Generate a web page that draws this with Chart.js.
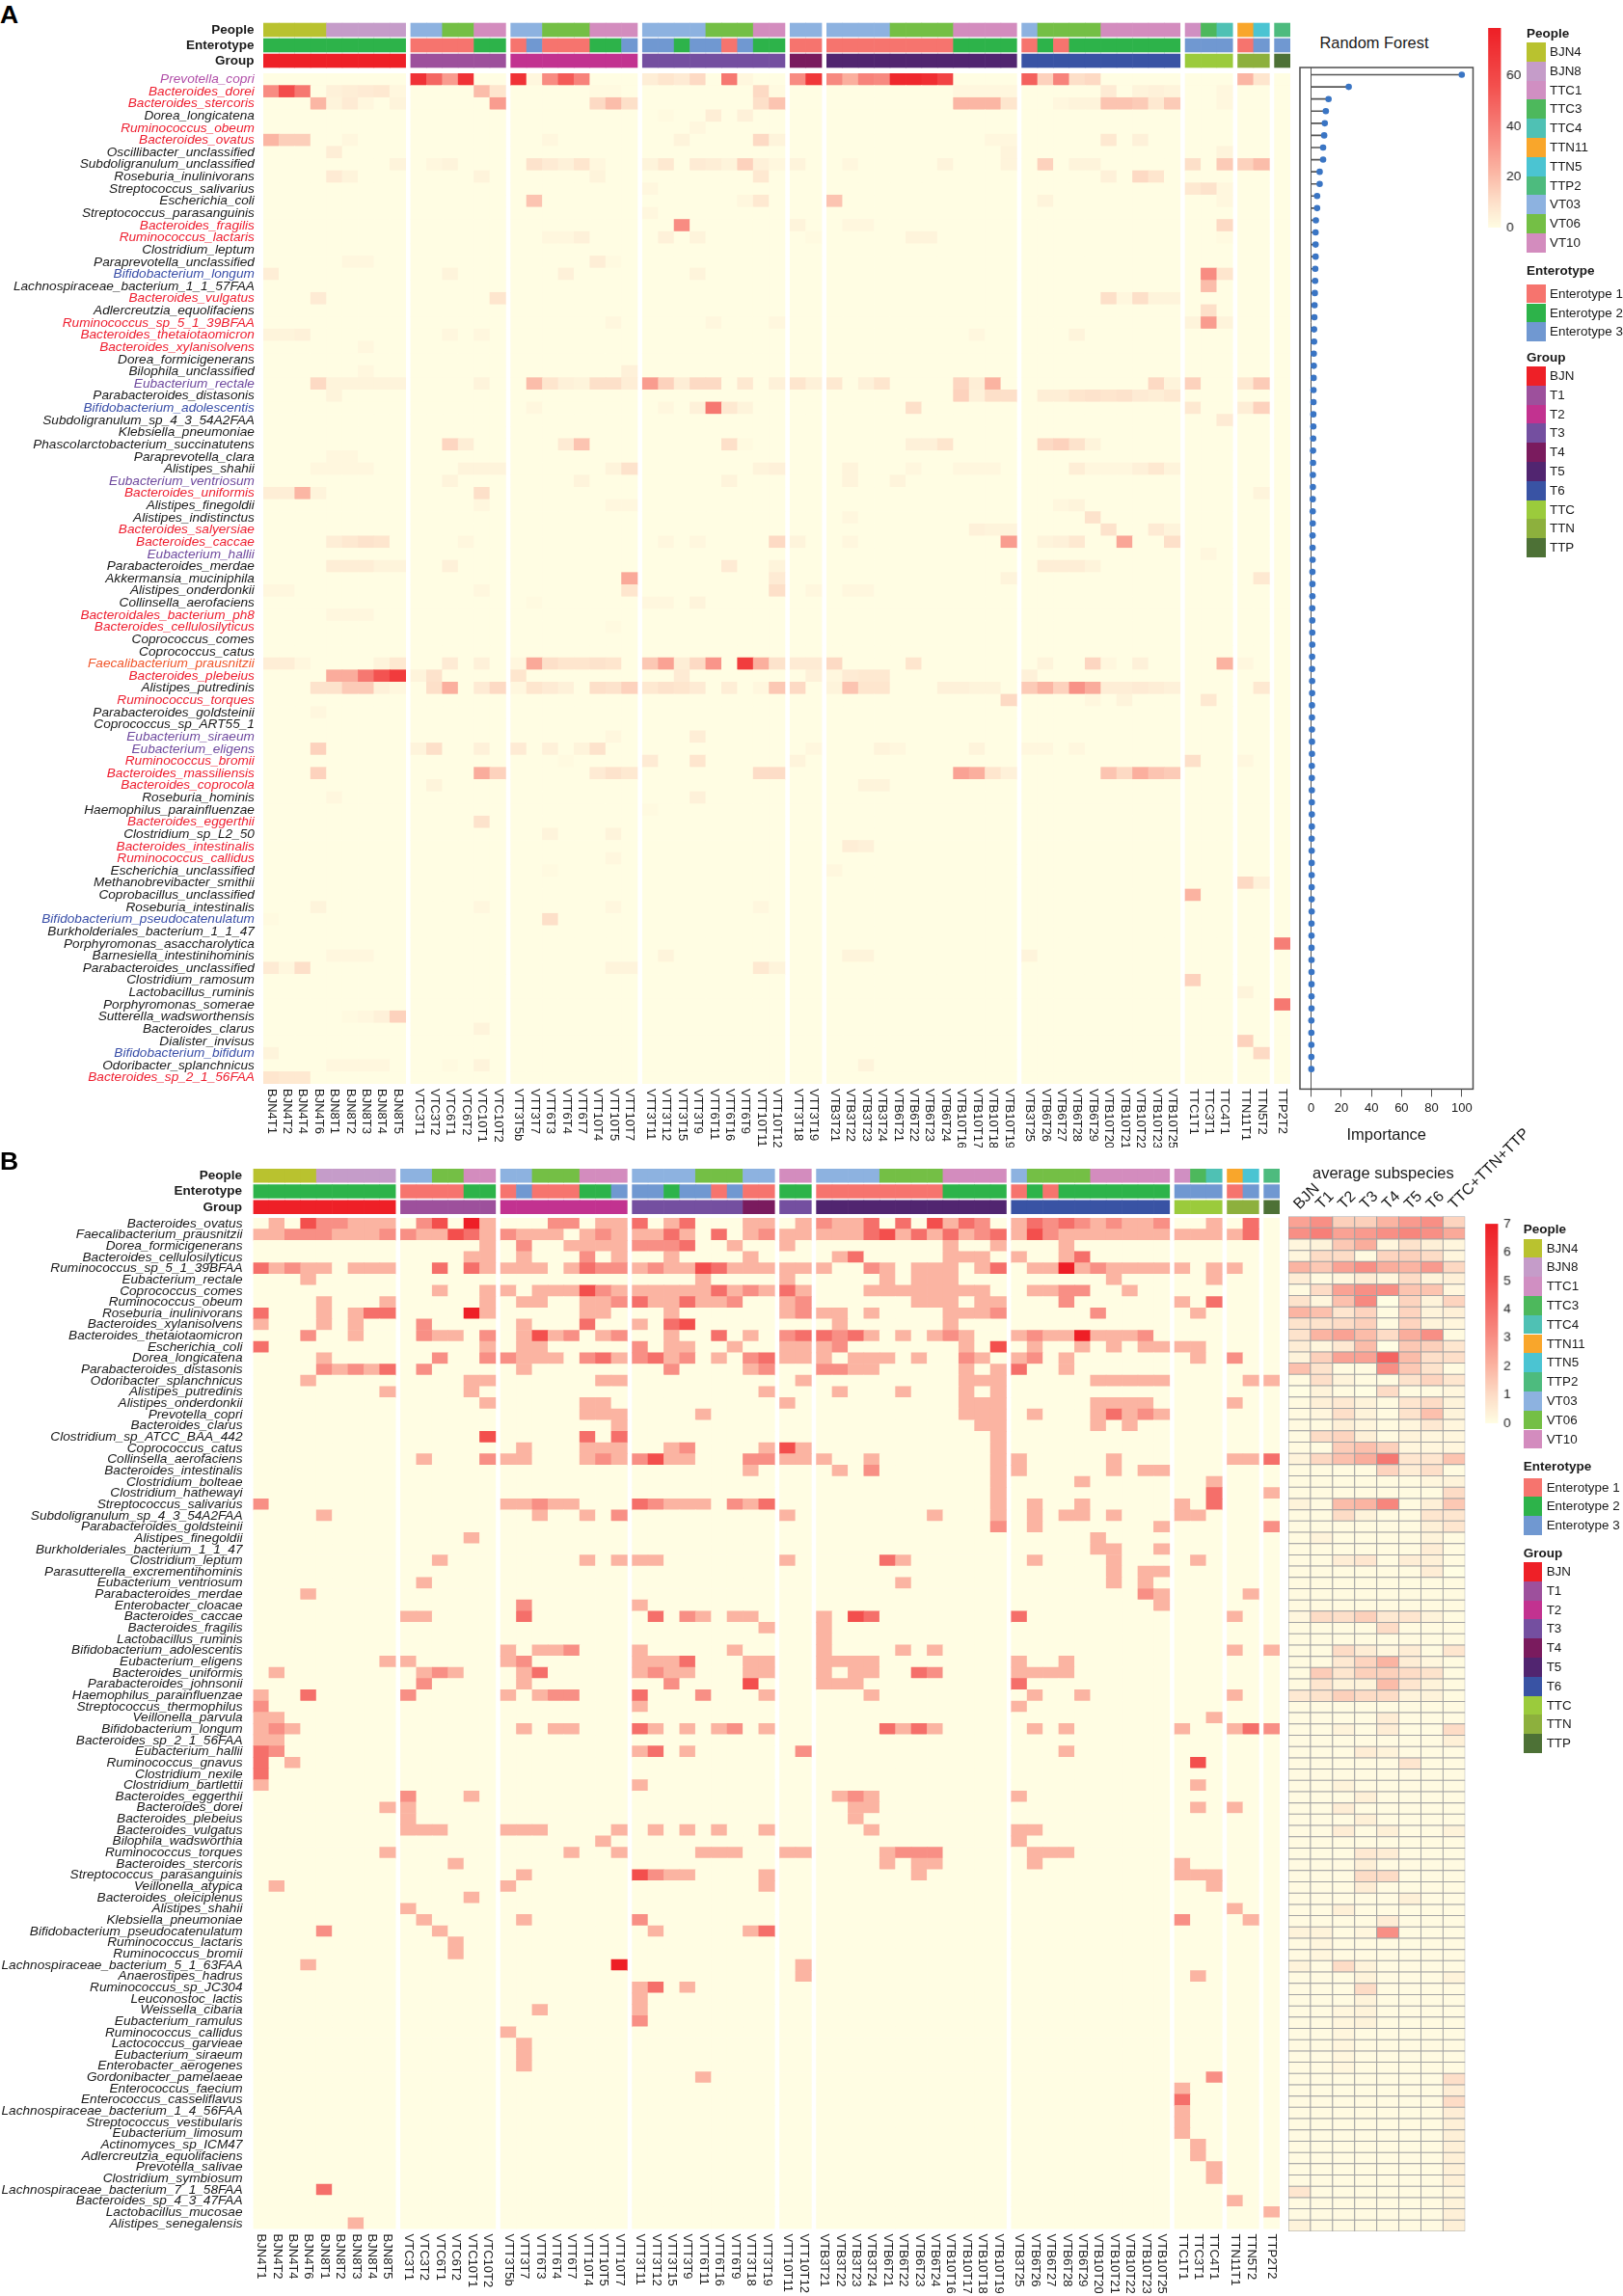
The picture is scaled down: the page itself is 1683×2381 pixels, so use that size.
<!DOCTYPE html>
<html>
<head>
<meta charset="utf-8">
<title>Subspecies heatmaps</title>
<script src="https://cdn.jsdelivr.net/npm/chart.js@4"></script>
<style>
  html, body { margin: 0; padding: 0; background: #fff; }
  #page { position: relative; width: 1683px; height: 2381px; overflow: hidden; font-family: "Liberation Sans", Arial, sans-serif; color: #1a1a1a; }
  #page canvas { position: absolute; }
  .txt { position: absolute; white-space: nowrap; line-height: 1; }
  .swatch { position: absolute; }
</style>
</head>
<body>
<div id="page"></div>
<script>
// ── Species (top to bottom) ─────────────────────────────────────
const speciesA = ['Prevotella_copri','Bacteroides_dorei','Bacteroides_stercoris','Dorea_longicatena','Ruminococcus_obeum','Bacteroides_ovatus','Oscillibacter_unclassified','Subdoligranulum_unclassified','Roseburia_inulinivorans','Streptococcus_salivarius','Escherichia_coli','Streptococcus_parasanguinis','Bacteroides_fragilis','Ruminococcus_lactaris','Clostridium_leptum','Paraprevotella_unclassified','Bifidobacterium_longum','Lachnospiraceae_bacterium_1_1_57FAA','Bacteroides_vulgatus','Adlercreutzia_equolifaciens','Ruminococcus_sp_5_1_39BFAA','Bacteroides_thetaiotaomicron','Bacteroides_xylanisolvens','Dorea_formicigenerans','Bilophila_unclassified','Eubacterium_rectale','Parabacteroides_distasonis','Bifidobacterium_adolescentis','Subdoligranulum_sp_4_3_54A2FAA','Klebsiella_pneumoniae','Phascolarctobacterium_succinatutens','Paraprevotella_clara','Alistipes_shahii','Eubacterium_ventriosum','Bacteroides_uniformis','Alistipes_finegoldii','Alistipes_indistinctus','Bacteroides_salyersiae','Bacteroides_caccae','Eubacterium_hallii','Parabacteroides_merdae','Akkermansia_muciniphila','Alistipes_onderdonkii','Collinsella_aerofaciens','Bacteroidales_bacterium_ph8','Bacteroides_cellulosilyticus','Coprococcus_comes','Coprococcus_catus','Faecalibacterium_prausnitzii','Bacteroides_plebeius','Alistipes_putredinis','Ruminococcus_torques','Parabacteroides_goldsteinii','Coprococcus_sp_ART55_1','Eubacterium_siraeum','Eubacterium_eligens','Ruminococcus_bromii','Bacteroides_massiliensis','Bacteroides_coprocola','Roseburia_hominis','Haemophilus_parainfluenzae','Bacteroides_eggerthii','Clostridium_sp_L2_50','Bacteroides_intestinalis','Ruminococcus_callidus','Escherichia_unclassified','Methanobrevibacter_smithii','Coprobacillus_unclassified','Roseburia_intestinalis','Bifidobacterium_pseudocatenulatum','Burkholderiales_bacterium_1_1_47','Porphyromonas_asaccharolytica','Barnesiella_intestinihominis','Parabacteroides_unclassified','Clostridium_ramosum','Lactobacillus_ruminis','Porphyromonas_somerae','Sutterella_wadsworthensis','Bacteroides_clarus','Dialister_invisus','Bifidobacterium_bifidum','Odoribacter_splanchnicus','Bacteroides_sp_2_1_56FAA'];

const speciesB = ['Bacteroides_ovatus','Faecalibacterium_prausnitzii','Dorea_formicigenerans','Bacteroides_cellulosilyticus','Ruminococcus_sp_5_1_39BFAA','Eubacterium_rectale','Coprococcus_comes','Ruminococcus_obeum','Roseburia_inulinivorans','Bacteroides_xylanisolvens','Bacteroides_thetaiotaomicron','Escherichia_coli','Dorea_longicatena','Parabacteroides_distasonis','Odoribacter_splanchnicus','Alistipes_putredinis','Alistipes_onderdonkii','Prevotella_copri','Bacteroides_clarus','Clostridium_sp_ATCC_BAA_442','Coprococcus_catus','Collinsella_aerofaciens','Bacteroides_intestinalis','Clostridium_bolteae','Clostridium_hathewayi','Streptococcus_salivarius','Subdoligranulum_sp_4_3_54A2FAA','Parabacteroides_goldsteinii','Alistipes_finegoldii','Burkholderiales_bacterium_1_1_47','Clostridium_leptum','Parasutterella_excrementihominis','Eubacterium_ventriosum','Parabacteroides_merdae','Enterobacter_cloacae','Bacteroides_caccae','Bacteroides_fragilis','Lactobacillus_ruminis','Bifidobacterium_adolescentis','Eubacterium_eligens','Bacteroides_uniformis','Parabacteroides_johnsonii','Haemophilus_parainfluenzae','Streptococcus_thermophilus','Veillonella_parvula','Bifidobacterium_longum','Bacteroides_sp_2_1_56FAA','Eubacterium_hallii','Ruminococcus_gnavus','Clostridium_nexile','Clostridium_bartlettii','Bacteroides_eggerthii','Bacteroides_dorei','Bacteroides_plebeius','Bacteroides_vulgatus','Bilophila_wadsworthia','Ruminococcus_torques','Bacteroides_stercoris','Streptococcus_parasanguinis','Veillonella_atypica','Bacteroides_oleiciplenus','Alistipes_shahii','Klebsiella_pneumoniae','Bifidobacterium_pseudocatenulatum','Ruminococcus_lactaris','Ruminococcus_bromii','Lachnospiraceae_bacterium_5_1_63FAA','Anaerostipes_hadrus','Ruminococcus_sp_JC304','Leuconostoc_lactis','Weissella_cibaria','Eubacterium_ramulus','Ruminococcus_callidus','Lactococcus_garvieae','Eubacterium_siraeum','Enterobacter_aerogenes','Gordonibacter_pamelaeae','Enterococcus_faecium','Enterococcus_casseliflavus','Lachnospiraceae_bacterium_1_4_56FAA','Streptococcus_vestibularis','Eubacterium_limosum','Actinomyces_sp_ICM47','Adlercreutzia_equolifaciens','Prevotella_salivae','Clostridium_symbiosum','Lachnospiraceae_bacterium_7_1_58FAA','Bacteroides_sp_4_3_47FAA','Lactobacillus_mucosae','Alistipes_senegalensis'];

// Coloured species names in panel A
const redNames = ['Bacteroides_dorei','Bacteroides_stercoris','Ruminococcus_obeum','Bacteroides_ovatus','Bacteroides_fragilis','Ruminococcus_lactaris','Bacteroides_vulgatus','Ruminococcus_sp_5_1_39BFAA','Bacteroides_thetaiotaomicron','Bacteroides_xylanisolvens','Bacteroides_uniformis','Bacteroides_salyersiae','Bacteroides_caccae','Bacteroidales_bacterium_ph8','Bacteroides_cellulosilyticus','Bacteroides_plebeius','Ruminococcus_torques','Ruminococcus_bromii','Bacteroides_massiliensis','Bacteroides_coprocola','Bacteroides_eggerthii','Bacteroides_intestinalis','Ruminococcus_callidus','Bacteroides_sp_2_1_56FAA'];
const blueNames = ['Bifidobacterium_longum','Bifidobacterium_adolescentis','Bifidobacterium_pseudocatenulatum','Bifidobacterium_bifidum'];
const purpleNames = ['Eubacterium_rectale','Eubacterium_ventriosum','Eubacterium_hallii','Eubacterium_siraeum','Eubacterium_eligens'];
const magentaNames = ['Prevotella_copri'];
const orangeNames = ['Faecalibacterium_prausnitzii'];

// ── Samples, split in the gapped column groups ──────────────────
const samplesA = [
  ['BJN4T1','BJN4T2','BJN4T4','BJN4T6','BJN8T1','BJN8T2','BJN8T3','BJN8T4','BJN8T5'],
  ['VTC3T1','VTC3T2','VTC6T1','VTC6T2','VTC10T1','VTC10T2'],
  ['VTT3T5b','VTT3T7','VTT6T3','VTT6T4','VTT6T7','VTT10T4','VTT10T5','VTT10T7'],
  ['VTT3T11','VTT3T12','VTT3T15','VTT3T9','VTT6T11','VTT6T16','VTT6T9','VTT10T11','VTT10T12'],
  ['VTT3T18','VTT3T19'],
  ['VTB3T21','VTB3T22','VTB3T23','VTB3T24','VTB6T21','VTB6T22','VTB6T23','VTB6T24','VTB10T16','VTB10T17','VTB10T18','VTB10T19'],
  ['VTB3T25','VTB6T26','VTB6T27','VTB6T28','VTB6T29','VTB10T20','VTB10T21','VTB10T22','VTB10T23','VTB10T25'],
  ['TTC1T1','TTC3T1','TTC4T1'],
  ['TTN11T1','TTN5T2'],
  ['TTP2T2']
];
const samplesB = [
  samplesA[0], samplesA[1], samplesA[2],
  ['VTT3T11','VTT3T12','VTT3T15','VTT3T9','VTT6T11','VTT6T16','VTT6T9','VTT3T18','VTT3T19'],
  ['VTT10T11','VTT10T12'],
  samplesA[5], samplesA[6], samplesA[7], samplesA[8], samplesA[9]
];

// ── Annotation tracks, as [name, count] runs over the samples ───
const peopleA = [['BJN4',4],['BJN8',5],['VT03',2],['VT06',2],['VT10',2],['VT03',2],['VT06',3],['VT10',3],['VT03',4],['VT06',3],['VT10',2],['VT03',2],['VT03',4],['VT06',4],['VT10',4],['VT03',1],['VT06',4],['VT10',5],['TTC1',1],['TTC3',1],['TTC4',1],['TTN11',1],['TTN5',1],['TTP2',1]];
const peopleB = [['BJN4',4],['BJN8',5],['VT03',2],['VT06',2],['VT10',2],['VT03',2],['VT06',3],['VT10',3],['VT03',4],['VT06',3],['VT03',2],['VT10',2],['VT03',4],['VT06',4],['VT10',4],['VT03',1],['VT06',4],['VT10',5],['TTC1',1],['TTC3',1],['TTC4',1],['TTN11',1],['TTN5',1],['TTP2',1]];
const enteroA = [['Enterotype 2',9],['Enterotype 1',4],['Enterotype 2',2],['Enterotype 1',1],['Enterotype 3',1],['Enterotype 1',3],['Enterotype 2',2],['Enterotype 3',1],['Enterotype 3',2],['Enterotype 2',1],['Enterotype 3',2],['Enterotype 1',1],['Enterotype 3',1],['Enterotype 2',2],['Enterotype 1',2],['Enterotype 1',8],['Enterotype 2',4],['Enterotype 1',1],['Enterotype 2',1],['Enterotype 1',1],['Enterotype 2',7],['Enterotype 3',3],['Enterotype 1',1],['Enterotype 3',1],['Enterotype 3',1]];
const enteroB = [['Enterotype 2',9],['Enterotype 1',4],['Enterotype 2',2],['Enterotype 1',1],['Enterotype 3',1],['Enterotype 1',3],['Enterotype 2',2],['Enterotype 3',1],['Enterotype 3',2],['Enterotype 2',1],['Enterotype 3',2],['Enterotype 1',1],['Enterotype 3',1],['Enterotype 1',2],['Enterotype 2',2],['Enterotype 1',8],['Enterotype 2',4],['Enterotype 1',1],['Enterotype 2',1],['Enterotype 1',1],['Enterotype 2',7],['Enterotype 3',3],['Enterotype 1',1],['Enterotype 3',1],['Enterotype 3',1]];
const groupA = [['BJN',9],['T1',6],['T2',8],['T3',9],['T4',2],['T5',12],['T6',10],['TTC',3],['TTN',2],['TTP',1]];
const groupB = [['BJN',9],['T1',6],['T2',8],['T3',7],['T4',2],['T3',2],['T5',12],['T6',10],['TTC',3],['TTN',2],['TTP',1]];

// ── Legend entries ──────────────────────────────────────────────
const peopleNames = ['BJN4','BJN8','TTC1','TTC3','TTC4','TTN11','TTN5','TTP2','VT03','VT06','VT10'];
const peopleColors = ['#B9C22F','#C59CC9','#D08FC2','#4DB85C','#4FC1B4','#F9A62B','#4BC4D2','#4DBB7E','#8DB2E0','#74BF45','#D38CBE'];
const enteroNames = ['Enterotype 1','Enterotype 2','Enterotype 3'];
const enteroColors = ['#F6746E','#2DB34A','#7098D1'];
const groupNames = ['BJN','T1','T2','T3','T4','T5','T6','TTC','TTN','TTP'];
const groupColors = ['#EE2027','#9D509C','#C23290','#744FA0','#7A1B5E','#512570','#3953A4','#9BCB3C','#8DB03D','#4D7136'];

// ── Panel A abundance: one list per species, as column,value pairs (others 0) ──
const valuesA = [
  [9,70,10,48,11,30,12,70,15,70,16,2,17,35,18,52,19,38,23,5,24,8,25,6,26,12,28,42,29,2,32,35,33,68,34,36,35,24,36,38,37,36,38,75,39,75,40,72,41,62,46,50,47,14,48,38,49,10,50,12,59,22,60,8],
  [0,35,1,58,2,42,4,4,5,5,6,6,7,7,8,2,13,20,14,8,20,1,21,1,30,12,31,1,42,2,43,2,44,2,45,2,51,6,53,3,54,4,55,3,58,2],
  [3,22,4,3,5,6,6,2,8,3,14,30,20,12,21,20,22,10,30,10,31,18,42,22,43,22,44,22,45,8,48,2,49,3,50,3,51,18,52,18,53,16,54,7,55,16,58,2],
  [24,1,27,5,29,4],
  [26,2],
  [0,22,1,15,2,15,5,2,17,2,25,3,30,12,31,3,44,2,45,2,51,7,53,4],
  [4,5,45,3,58,3],
  [8,3,10,2,11,3,16,9,17,6,18,4,19,8,20,2,23,3,24,7,26,6,27,5,28,3,29,14,30,4,31,2,32,3,35,2,41,3,45,3,47,14,49,3,50,3,56,10,58,16,59,14,60,20],
  [4,6,5,3,13,3,20,3,30,7,51,4,53,12,54,8],
  [23,2,56,7,57,9,58,2],
  [16,18,29,2,30,7,34,18,47,3,58,2],
  [23,2],
  [25,35,32,3,35,2,36,2,58,12],
  [17,2,18,2,19,4,24,4,26,3,33,1,39,3,40,3,58,1],
  [],
  [5,2,6,2,20,5,21,1],
  [0,5,11,3,18,4,26,3,57,35,58,8],
  [57,20],
  [3,6,14,8,51,10,52,2,53,10,54,3,55,3],
  [57,10],
  [21,2,27,2,31,2,56,3,57,30,58,3],
  [0,3,1,3,2,4,11,2,13,2,43,2,49,3],
  [6,2],
  [],
  [6,2,22,4],
  [3,12,4,3,5,3,6,3,7,3,8,3,13,3,16,20,17,8,18,4,19,3,20,10,21,10,22,5,23,30,24,14,25,5,26,12,27,12,29,7,31,4,32,8,33,4,34,7,36,4,37,8,42,13,43,5,44,23,54,12,55,3,56,14,59,7,60,16],
  [4,3,42,14,43,4,44,10,45,10,47,5,48,5,49,8,50,9,51,8,52,9,53,6,54,5,55,7],
  [16,2,24,2,26,4,27,42,28,7,29,3,39,10,56,7,59,5,60,14],
  [58,6],
  [],
  [11,13,12,5,18,6,19,18,28,10,29,1,39,4,40,4,41,8,47,12,48,14,49,9,50,3],
  [4,2,5,2],
  [3,2,4,2,5,2,6,2,12,3,13,3,14,3,21,3,22,9,30,3,31,4,35,3,39,2,42,2,43,2,44,2,49,5,50,2,51,2,52,2,53,4,54,7,55,3],
  [11,3,19,3,28,3,35,3,38,3],
  [0,5,1,5,2,22,3,3,13,10,60,3],
  [13,2,21,2,22,2,48,2,49,3],
  [35,2,50,9],
  [43,4,44,3,45,3,51,9,54,6,55,3],
  [4,5,5,7,6,9,7,8,12,2,24,2,26,2,31,12,32,3,35,2,45,30,47,3,48,4,49,7,52,27,55,10],
  [57,2],
  [4,5,5,5,6,5,7,3,8,3,11,4,28,6,31,3,47,5,48,5,49,5,50,3],
  [22,26,31,6,45,3,60,7],
  [0,2,1,2,13,2,22,8,31,10,33,2,35,2,36,2],
  [16,1,23,2,24,2,26,3],
  [4,2,5,2,6,2],
  [21,1],
  [],
  [],
  [0,5,1,5,2,2,7,3,8,7,11,6,13,4,15,2,16,26,17,10,18,8,19,8,20,9,21,8,23,17,24,28,25,5,26,12,27,32,29,65,30,24,31,9,32,6,33,6,34,12,39,8,47,3,50,13,51,2,53,4,58,23,59,2],
  [4,25,5,25,6,42,7,55,8,66,9,3,10,9,15,8,25,6,33,4,34,2,35,6,36,7,37,7,46,4],
  [3,9,4,9,5,16,6,16,7,4,8,2,10,10,11,24,13,6,14,12,15,2,16,8,17,6,18,4,20,10,21,9,22,14,23,7,24,9,25,8,26,6,28,5,30,2,31,17,32,12,34,3,35,18,36,8,37,8,41,4,42,4,43,3,44,3,46,16,47,22,48,14,49,33,50,25,51,5,52,5,53,6,54,5,55,4,60,7],
  [45,12,50,2,52,3,57,7],
  [3,2],
  [],
  [21,2,26,5],
  [3,14,9,3,10,10,13,4,15,6,17,4,19,3,20,9,33,2,37,3,38,2,43,3,46,2,47,2,49,2],
  [18,1,23,6,26,8,32,3,56,10,59,2],
  [3,14,13,25,14,14,20,6,21,9,22,7,30,11,31,11,42,28,43,24,44,8,45,4,51,18,52,12,53,24,54,18,55,16],
  [10,3,36,3,37,3],
  [4,2,26,4],
  [23,1],
  [13,9],
  [17,3,21,3],
  [35,5,36,4],
  [21,2],
  [17,1,34,2],
  [59,12,60,4],
  [56,23],
  [3,3,13,2,21,2,30,2],
  [0,1,17,10],
  [],
  [61,40],
  [4,2,5,2,6,2,24,3,35,3,36,3,46,3],
  [0,6,1,2,2,10,21,3,22,3,30,7,31,3],
  [56,14],
  [59,3],
  [61,42],
  [5,1,6,2,7,4,8,14],
  [13,3],
  [59,14],
  [0,3,60,12],
  [4,2,5,2,6,2,7,2,11,1,13,3,36,3],
  [0,8,1,7,2,7]
];

// ── Panel B abundance, same layout ──────────────────────────────
const valuesB = [
  [1,2,3,5,4,3,5,3,6,2,7,2,8,2,10,3,11,5,13,7,14,2,18,3,19,3,21,2,22,2,23,4,25,2,26,4,30,2,31,2,33,2,34,3,35,2,36,2,37,4,39,4,41,5,42,2,43,4,44,3,46,2,47,4,48,3,49,4,50,3,51,2,52,3,53,2,54,2,55,3,58,2,60,4],
  [0,2,1,2,2,3,3,3,4,3,5,2,6,2,7,2,8,3,9,3,10,2,11,2,12,5,13,4,14,2,15,3,16,2,17,2,18,2,20,2,21,3,22,2,23,2,24,2,25,4,26,2,28,4,30,2,31,3,32,2,33,2,34,2,35,2,36,2,37,4,38,5,39,2,40,4,41,2,42,4,43,2,44,3,45,4,46,2,47,5,48,3,49,2,50,2,51,2,52,2,53,2,54,2,55,2,56,2,57,2,58,2,59,2,60,4],
  [14,2,16,3,19,2,20,2,21,2,22,2,23,3,24,3,25,3,26,4,29,2,32,2,42,2,45,2,49,2],
  [13,2,14,2,16,2,20,3,22,2,25,2,30,2,35,2,36,4,42,2,43,2,44,2,46,2,49,2,50,4],
  [0,4,1,2,2,3,3,2,4,2,6,2,7,2,8,2,11,4,13,4,14,2,15,2,16,2,17,2,19,2,20,4,21,3,22,3,23,2,24,3,25,2,26,2,27,5,28,4,29,2,30,2,31,2,32,2,33,2,34,2,37,3,38,2,40,2,41,2,42,2,44,2,45,4,47,2,48,2,49,7,50,2,51,3,52,2,53,2,54,2,55,2,56,2,58,2,59,2],
  [3,2,27,2,32,2,38,2,40,2,41,2,42,2,52,2,58,2],
  [11,2,14,2,15,2,17,2,18,2,19,2,20,5,21,3,22,2,23,2,24,2,25,2,26,2,27,2,28,4,29,2,30,3,31,2,32,4,33,2,37,2,38,2,39,2,40,2,41,2,42,2,43,2,44,2,47,2,48,2,49,3,50,3,53,2],
  [4,2,8,2,14,2,16,2,17,2,20,2,21,2,22,3,23,4,24,2,25,2,26,4,27,2,28,2,29,3,32,2,33,3,40,2,41,2,42,2,44,2,45,2,49,3,56,2,58,4],
  [0,4,4,2,6,2,7,4,8,4,13,7,14,2,20,2,21,2,25,2,32,2,33,3,34,2,35,2,37,2,42,2,43,2,44,2,45,3,51,3,57,2],
  [0,2,4,2,6,2,10,3,16,2,20,4,23,2,25,4,26,5,35,2,42,2],
  [3,3,6,2,10,3,11,2,12,2,14,3,16,2,17,5,18,2,19,3,21,2,22,3,25,2,28,4,30,2,32,3,33,4,34,4,35,3,36,4,37,2,39,2,41,2,42,3,43,2,46,2,47,3,48,2,49,2,50,7,51,2,52,2,53,2,54,3],
  [0,4,14,2,16,2,17,2,23,3,25,2,26,2,29,2,32,2,33,2,34,2,35,3,43,2,45,5,47,2,50,2,52,2,54,2,55,2,56,2,57,2],
  [4,2,11,3,14,3,15,3,16,2,17,2,18,2,20,3,21,4,22,2,23,3,24,4,25,2,26,3,28,2,30,3,31,4,32,2,33,2,34,2,36,2,37,2,38,2,40,2,43,3,44,2,46,2,47,3,49,2,57,2,59,3],
  [4,3,5,2,6,3,7,2,8,4,10,3,16,2,25,3,30,2,31,3,34,3,35,3,36,2,37,2,43,2,45,2,46,4,49,2],
  [3,2,13,2,14,2,21,2,22,2,33,2,43,2,44,2,45,2,51,2,52,2,53,2,54,2,55,2,60,2,61,2],
  [8,2,13,2,31,2,35,2,39,2,43,2,45,2],
  [14,2,20,2,21,2,32,2,43,2,44,2,45,2,51,2,52,2,53,2,54,2,59,2],
  [20,2,21,2,22,2,27,2,43,2,44,2,45,2,47,2,51,2,52,4,53,2,54,3,55,2],
  [22,2,44,2,45,2,51,2,53,2],
  [14,5,20,4,22,4,45,2],
  [16,2,20,2,21,2,22,2,25,2,26,3,31,2,32,5,33,2,45,2],
  [10,2,14,3,15,2,16,2,20,2,21,3,22,2,23,3,24,5,25,2,26,2,30,3,31,3,32,2,33,2,34,2,37,2,45,2,46,2,52,2,59,2,60,2,61,4],
  [30,2,35,2,37,3,45,2,46,2,52,2,54,2,55,2],
  [45,2,50,2,58,2],
  [45,2,58,4,61,2],
  [0,3,15,2,16,2,17,3,18,2,19,2,23,4,24,3,25,2,26,2,27,2,29,3,30,2,31,4,45,2,47,2,50,2,56,2,58,4],
  [4,2,17,2,20,2,22,3,32,2,41,2,45,2,47,2,49,2,50,2,52,2,56,2,57,2],
  [45,3,47,2,55,2,61,3],
  [13,2,51,2],
  [51,2,52,2,55,2],
  [11,2,20,2,22,2,23,2,24,2,32,2,38,4,39,2,47,2,52,2,57,2],
  [52,2,54,2,55,2],
  [10,2,39,2,52,2,54,2],
  [3,2,54,3,55,2,60,2],
  [16,3,23,2,55,2],
  [9,2,10,2,16,4,24,4,26,3,27,2,29,2,30,2,34,2,36,5,37,4,46,4,59,2],
  [31,2,34,2],
  [34,2],
  [15,2,17,2,18,2,19,3,23,2,29,2,34,2,39,2,41,2,59,2,61,2],
  [8,2,9,2,15,2,16,3,23,2,24,2,25,2,26,4,30,2,31,2,34,2,35,2,36,2,37,2,46,2,49,2],
  [1,2,10,2,11,3,12,2,16,2,17,4,23,2,24,3,25,2,26,2,30,2,31,2,34,2,36,2,37,2,40,4,41,3,46,2,47,2,48,2,49,2],
  [10,3,16,2,25,3,30,5,34,2,35,2,36,2,46,4],
  [0,2,3,4,9,3,15,2,17,2,18,3,19,3,23,4,27,3,31,2,37,2,47,2,50,2,59,2],
  [0,3,23,2,46,2],
  [0,2,1,2,58,2],
  [0,2,1,3,2,2,16,2,18,2,19,2,23,4,24,2,26,2,28,2,29,3,31,2,38,4,39,2,40,4,41,2,47,2,49,2,56,2,59,2,60,4,61,3],
  [0,2,1,2],
  [0,4,1,3,23,2,24,4,26,2,33,3,49,2],
  [0,4,2,2,57,5],
  [0,4],
  [0,2,23,2,57,2],
  [9,3,13,2,35,2,36,3,37,2,46,2],
  [8,2,9,2,36,2,37,2,57,2,59,2],
  [9,2,36,2],
  [9,2,10,2,11,2,15,2,16,2,17,2,22,2,24,2,26,2,28,2,31,2,37,2,46,2,47,2],
  [21,2,46,2],
  [8,2,19,2,22,2,27,2,28,2,29,2,32,2,33,2,38,2,39,3,40,3,41,3,47,2,48,2,49,2],
  [12,2,38,2,40,2,41,2,47,2,56,2],
  [16,2,23,5,24,3,25,2,26,2,31,2,40,2,56,2,57,2,58,2],
  [1,2,15,2,31,2,58,2],
  [13,2],
  [9,2,59,2],
  [10,2,16,2,23,3,56,3,60,2],
  [4,3,11,2,24,2,30,2,31,4],
  [12,2],
  [12,2],
  [3,2,22,7,33,2],
  [33,2,57,2],
  [23,2,24,4,26,2],
  [23,2],
  [17,2,23,2],
  [23,3],
  [15,2],
  [16,2],
  [16,2],
  [16,2],
  [27,2,58,3],
  [56,2],
  [56,4],
  [56,2],
  [56,2],
  [56,2],
  [57,2],
  [57,2],
  [58,2],
  [58,2],
  [4,4],
  [59,2],
  [61,2],
  [6,2]
];

// ── Panel B averages (BJN … TTC+TTN+TTP), first rows read cell by cell ──
const avgColumns = ['BJN','T1','T2','T3','T4','T5','T6','TTC+TTN+TTP'];
const avgTop = [
  [2.5,3,1.3,1.3,2,2.7,3,1.2],[3,3.5,2.5,2.7,3,3.3,3,2.3],[.2,.3,1.5,2.2,.2,.8,.4,.2],[.2,1,1,.1,1.2,1.3,1,.2],
  [2,1.5,2.5,3,2.2,2,2.7,1.1],[.5,.1,.2,.5,.2,1,.3,.4],[.1,1,2.5,3,3,1.6,1.6,.2],[.8,.2,1.7,3.2,0,1.2,.3,1.2],
  [2,1.7,.7,1.2,.1,1.2,.3,.4],[.8,.8,1,1.3,.1,1.2,.3,.2],[.8,2,2.5,1.8,1,2.2,3,.1],[.5,.2,.6,1.8,0,1.5,1.3,.7],
  [.3,1.3,2.5,2.5,4.3,1.8,.9,.9],[1.7,.8,.1,.1,3,1.5,.8,.1],[.1,.9,.3,.1,.1,.8,1.2,.7],[0,.3,.1,0,1,.1,.1,.2],
  [.1,.4,.6,.3,.1,.7,1,.3],[.1,.2,.9,.3,.1,.8,1.7,.3],[.1,.1,.4,.2,.1,.2,.6,.2],[.1,1,1.2,.4,.1,.3,.2,.2],
  [.1,.1,1.4,1.7,1.3,.2,.2,.2],[.3,1.1,1.7,2.2,3.7,.7,.7,1.6],[.1,.1,.1,.1,1.2,.5,.9,.1],[.1,.1,.1,.1,.1,.1,.2,.3],
  [.1,.1,.1,.1,.1,.1,.1,1],[.3,.1,1.8,2,3.3,.1,.4,1.5],[.1,.1,1,.3,.1,.1,.7,.7],[.1,.1,.1,.1,.1,.1,.4,.7],
  [.1,.3,.1,.1,.1,.1,.3,.1],[.1,.1,.1,.1,.1,.1,.5,.1],[.1,.1,.5,.7,.1,.5,.4,.1],[.1,.1,.1,.1,.1,.1,.5,0],
  [.1,.1,.1,.1,.1,.1,.1,.1],[.1,.1,.1,.1,.1,.1,.1,.1],[.1,.1,.1,.1,.1,.1,.1,.1],[.2,1,.9,1.3,.6,.7,.3,.1],
  [.1,.1,.1,.1,1,.1,.1,.1],[.1,.1,.1,.1,.1,.1,.1,.1],[.1,.1,1,.5,.2,.5,.1,.7],[.1,.1,.6,1.2,2,.5,.2,.1],
  [.1,1.4,.7,1.3,1.3,1,.8,.1],[.1,.7,.3,.3,1.8,.7,.3,.1],[.6,.8,1.3,1,1,.3,.3,.1]
];
// Lower rows are pale almost everywhere; only the cells that stand out: row,column,value
const avgLower = [44,4,.5,45,2,.3,45,4,.5,45,7,1,46,7,.4,47,3,.5,47,4,.3,48,5,.7,50,2,.3,51,3,.4,52,2,.5,53,3,.4,54,2,.5,54,4,.4,54,7,.3,56,3,.6,56,4,.5,57,3,.4,58,3,1,58,4,1,59,3,.5,60,5,.4,61,2,.4,62,4,.5,63,0,.3,63,1,.3,63,3,.2,63,4,3,64,1,.2,65,1,.2,66,0,.3,66,2,1,66,3,.3,67,7,.3,67,3,.3,68,3,1,69,3,.3,70,2,.2,70,3,.3,71,2,.2,71,3,.3,72,2,.2,73,2,.2,74,2,.2,75,2,.2,76,7,.9,77,7,.5,78,7,1,79,7,.5,80,7,.4,81,7,.4,82,7,.4,83,7,.4,84,7,.4,85,7,.4,86,0,.7,86,7,.2,87,7,.3,88,7,.4,89,0,.3,89,7,.4];

// ── Random forest importance, in the order of speciesA ──────────
const importance = [100,24.9,11.5,9.7,9,8.6,7.9,7.9,5.6,5.6,3.9,3.9,3.1,2.9,2.9,2.9,2.7,2.6,2.4,2.2,2.1,1.9,1.9,1.7,1.7,1.6,1.5,1.5,1.4,1.4,1.3,1.2,1.2,1.1,1.1,1.0,1.0,1.0,.9,.9,.9,.8,.8,.8,.7,.7,.7,.7,.6,.6,.6,.6,.5,.5,.5,.5,.5,.4,.4,.4,.4,.4,.4,.3,.3,.3,.3,.3,.3,.3,.2,.2,.2,.2,.2,.2,.2,.2,.1,.1,.1,.1,.1];

const rampStops = [[0,'#FFFDE3'],[.143,'#FDDCC6'],[.286,'#FBB4A2'],[.43,'#F88F85'],[.57,'#F56F6A'],[.71,'#F3504E'],[1,'#EE1F26']];
const maxA = 79, maxB = 7;
const GAP = 0.32;                 // white gap between column groups, in cells
const EDGE = 20;                  // room above/below a plot, more than tick label + tick padding need

Chart.defaults.font.family = '"Liberation Sans", Arial, sans-serif';
Chart.defaults.color = '#1a1a1a';
Chart.defaults.animation = false;
Chart.defaults.events = [];
Chart.defaults.responsive = false;
Chart.defaults.plugins.legend.display = false;
Chart.defaults.plugins.tooltip.enabled = false;

const page = document.getElementById('page');

function hexRgb(h) {
  return [1, 3, 5].map(function (i) { return parseInt(h.substr(i, 2), 16); });
}
function ramp(t) {
  t = Math.min(1, Math.max(0, t));
  for (let i = 1; i < rampStops.length; i++) {
    if (t <= rampStops[i][0]) {
      const a = rampStops[i - 1], b = rampStops[i];
      const f = (t - a[0]) / (b[0] - a[0]);
      const ca = hexRgb(a[1]), cb = hexRgb(b[1]);
      return 'rgb(' + ca.map(function (c, k) { return Math.round(c + (cb[k] - c) * f); }).join(',') + ')';
    }
  }
  return rampStops[rampStops.length - 1][1];
}

function addCanvas(left, top, width, height) {
  const c = document.createElement('canvas');
  c.width = width; c.height = height;
  c.style.left = left + 'px'; c.style.top = top + 'px';
  c.style.width = width + 'px'; c.style.height = height + 'px';
  page.appendChild(c);
  return c;
}
function addText(text, left, top, css) {
  const d = document.createElement('div');
  d.className = 'txt';
  d.textContent = text;
  d.style.cssText = 'left:' + left + 'px;top:' + top + 'px;' + (css || '');
  page.appendChild(d);
  return d;
}

// Column start of each sample on the linear x scale (groups separated by GAP)
function columnStarts(groups) {
  const out = [];
  let n = 0;
  groups.forEach(function (g, gi) {
    g.forEach(function () { out.push(n + gi * GAP); n++; });
  });
  return out;
}
function expandRuns(runs) {
  const out = [];
  runs.forEach(function (r) { for (let i = 0; i < r[1]; i++) out.push(r[0]); });
  return out;
}

// Draws rotated text at scale positions (chart x value, fixed offset from the plot edge)
function rotatedLabels(labels, xValues, opt) {
  return {
    id: 'rotatedLabels',
    afterDraw: function (chart) {
      const ctx = chart.ctx, sx = chart.scales.x, area = chart.chartArea;
      ctx.save();
      ctx.font = opt.font;
      ctx.fillStyle = '#1a1a1a';
      ctx.textAlign = 'left';
      ctx.textBaseline = 'middle';
      labels.forEach(function (txt, i) {
        ctx.save();
        const y = opt.top ? area.top - opt.dy : area.bottom + opt.dy;
        ctx.translate(sx.getPixelForValue(xValues[i]) + (opt.dx || 0), y);
        ctx.rotate(opt.angle);
        ctx.fillText(txt, 0, 0);
        ctx.restore();
      });
      ctx.restore();
    }
  };
}

function fixedWidth(w) { return function (s) { s.width = w; }; }

// ── Heatmap of samples × species, one floating bar per cell ─────
function sampleHeatmap(cfg) {
  const starts = columnStarts(cfg.groups);
  const total = starts[starts.length - 1] + 1;
  const cells = [];
  cfg.species.forEach(function (name, r) {
    const vals = {};
    for (let k = 0; k < cfg.values[r].length; k += 2) vals[cfg.values[r][k]] = cfg.values[r][k + 1];
    starts.forEach(function (s, c) {
      cells.push({ x: [s, s + 1], y: name, v: vals[c] || 0 });
    });
  });
  const canvasTop = cfg.top - EDGE;
  const canvas = addCanvas(0, canvasTop, Math.ceil(cfg.left + cfg.width) + 2, Math.ceil(cfg.bottom - canvasTop + 66));
  new Chart(canvas, {
    type: 'bar',
    data: {
      labels: cfg.species,
      datasets: [{
        data: cells,
        backgroundColor: function (c) { return c.raw ? ramp(c.raw.v / cfg.max) : '#fff'; },
        barPercentage: 1,
        categoryPercentage: 1,
        borderWidth: 0
      }]
    },
    options: {
      indexAxis: 'y',
      layout: { padding: { top: EDGE, bottom: canvas.height - (cfg.bottom - canvasTop), left: 0, right: canvas.width - cfg.left - cfg.width } },
      scales: {
        x: { type: 'linear', display: false, min: 0, max: total },
        y: {
          type: 'category',
          afterFit: fixedWidth(cfg.left),
          border: { display: false },
          grid: { display: false, drawTicks: false, tickLength: 0 },
          ticks: {
            autoSkip: false,
            padding: cfg.labelPad,
            font: { size: 13.65, style: 'italic' },
            color: function (c) { return cfg.labelColor ? cfg.labelColor(cfg.species[c.index]) : '#1a1a1a'; }
          }
        }
      }
    },
    plugins: [rotatedLabels(cfg.groups.flat(), starts.map(function (s) { return s + 0.5; }), {
      font: '13px "Liberation Sans", Arial, sans-serif', angle: Math.PI / 2, dy: 5
    })]
  });
}

// ── People / Enterotype / Group tracks above a heatmap ──────────
function annotationTracks(cfg) {
  const starts = columnStarts(cfg.groups);
  const total = starts[starts.length - 1] + 1;
  const cells = [];
  const tracks = [
    { name: 'People', values: expandRuns(cfg.people), names: peopleNames, colors: peopleColors },
    { name: 'Enterotype', values: expandRuns(cfg.entero), names: enteroNames, colors: enteroColors },
    { name: 'Group', values: expandRuns(cfg.group), names: groupNames, colors: groupColors }
  ];
  tracks.forEach(function (t) {
    starts.forEach(function (s, c) {
      cells.push({ x: [s, s + 1], y: t.name, color: t.colors[t.names.indexOf(t.values[c])] });
    });
  });
  const canvas = addCanvas(0, cfg.top - EDGE, Math.ceil(cfg.left + cfg.width) + 2, cfg.bottom - cfg.top + 2 * EDGE);
  new Chart(canvas, {
    type: 'bar',
    data: {
      labels: tracks.map(function (t) { return t.name; }),
      datasets: [{
        data: cells,
        backgroundColor: function (c) { return c.raw ? c.raw.color : '#fff'; },
        barPercentage: 1,
        categoryPercentage: cfg.fill,
        inflateAmount: 0.3,
        borderWidth: 0
      }]
    },
    options: {
      indexAxis: 'y',
      layout: { padding: { top: EDGE, bottom: EDGE, left: 0, right: canvas.width - cfg.left - cfg.width } },
      scales: {
        x: { type: 'linear', display: false, min: 0, max: total },
        y: {
          type: 'category',
          afterFit: fixedWidth(cfg.left),
          border: { display: false },
          grid: { display: false, drawTicks: false, tickLength: 0 },
          ticks: { autoSkip: false, padding: cfg.labelPad, font: { size: 13.5, weight: 'bold' } }
        }
      }
    }
  });
}

// ── Vertical colour key with its own value axis ─────────────────
function colorKey(cfg) {
  const canvas = addCanvas(cfg.left - 6, cfg.top - EDGE, cfg.width + 6 + 30, cfg.bottom - cfg.top + 2 * EDGE);
  new Chart(canvas, {
    type: 'bar',
    data: {
      labels: ['key'],
      datasets: [{
        data: [[0, cfg.max]],
        barPercentage: 1,
        categoryPercentage: 1,
        backgroundColor: function (c) {
          const area = c.chart.chartArea;
          if (!area) return '#fff';
          const g = c.chart.ctx.createLinearGradient(0, area.bottom, 0, area.top);
          rampStops.forEach(function (s) { g.addColorStop(s[0], s[1]); });
          return g;
        }
      }]
    },
    options: {
      layout: { padding: { top: EDGE, bottom: EDGE, left: 6, right: 0 } },
      scales: {
        x: { display: false },
        y: {
          position: 'right',
          min: 0,
          max: cfg.max,
          afterFit: fixedWidth(30),
          border: { display: false },
          grid: { display: false, drawTicks: false, tickLength: 0 },
          ticks: { stepSize: cfg.step, includeBounds: false, padding: 5.5, font: { size: 13.5 } }
        }
      }
    }
  });
}

// ── Legend blocks (People, Enterotype, Group) ───────────────────
function legendBlock(title, names, colors, x, titleY, swatchY) {
  addText(title, x, titleY - 7, 'font-weight:bold;font-size:13.5px;');
  names.forEach(function (n, i) {
    const s = document.createElement('div');
    s.className = 'swatch';
    s.style.cssText = 'left:' + x + 'px;top:' + (swatchY + i * 19.8) + 'px;width:19.5px;height:19.8px;background:' + colors[i];
    page.appendChild(s);
    addText(n, x + 24, swatchY + i * 19.8 + 3, 'font-size:13.4px;line-height:14px;');
  });
}

// ── Panel A ─────────────────────────────────────────────────────
addText('A', 0, 1.6, 'font-weight:bold;font-size:26.5px;color:#000;');

annotationTracks({ groups: samplesA, people: peopleA, entero: enteroA, group: groupA, top: 23.3, bottom: 71.3, left: 272.9, width: 1065.1, labelPad: 9.3, fill: 0.875 });

sampleHeatmap({
  groups: samplesA, species: speciesA, values: valuesA, max: maxA,
  top: 76, bottom: 1124, left: 272.9, width: 1065.1, labelPad: 9,
  labelColor: function (name) {
    if (redNames.indexOf(name) >= 0) return '#EE1F30';
    if (blueNames.indexOf(name) >= 0) return '#3A4FA8';
    if (purpleNames.indexOf(name) >= 0) return '#6F4A9E';
    if (magentaNames.indexOf(name) >= 0) return '#B14FA8';
    if (orangeNames.indexOf(name) >= 0) return '#F0562A';
    return '#1a1a1a';
  }
});

// Lollipop panel: stems are thin bars, heads a scatter set, both on the same axes
(function () {
  const canvas = addCanvas(1340, 66, 210, 1121);
  new Chart(canvas, {
    type: 'bar',
    data: {
      datasets: [
        {
          type: 'bar',
          indexAxis: 'y',
          data: importance.map(function (v, i) { return { x: v, y: i }; }),
          backgroundColor: '#555',
          barThickness: 1,
          order: 2
        },
        {
          type: 'scatter',
          data: importance.map(function (v, i) { return { x: v, y: i }; }),
          pointRadius: 3.3,
          backgroundColor: '#3A75C4',
          borderWidth: 0,
          order: 1
        }
      ]
    },
    options: {
      indexAxis: 'y',
      layout: { padding: { top: 4, left: 8, right: 22.5, bottom: 0 } },
      scales: {
        x: {
          type: 'linear',
          min: -7.5,
          max: 107.5,
          afterFit: function (s) { s.height = 57.6; },
          border: { display: false },
          grid: {
            drawTicks: true,
            tickLength: 8,
            tickColor: '#555',
            color: function (c) { return c.tick && c.tick.value === 0 ? '#555' : 'rgba(0,0,0,0)'; }
          },
          ticks: { stepSize: 20, includeBounds: false, padding: 4, maxRotation: 0, font: { size: 13 } },
          title: { display: true, text: 'Importance', font: { size: 16.5 }, padding: 0 }
        },
        y: { type: 'linear', display: false, reverse: true, offset: false, min: -0.6, max: 83.65 }
      }
    },
    plugins: [{
      id: 'panelBox',
      afterDraw: function (chart) {
        const a = chart.chartArea, ctx = chart.ctx;
        ctx.save();
        ctx.strokeStyle = '#4d4d4d';
        ctx.lineWidth = 1.5;
        ctx.strokeRect(a.left, a.top, a.right - a.left, a.bottom - a.top);
        ctx.restore();
      }
    }]
  });
})();
addText('Random Forest', 1368.5, 36, 'font-size:16.4px;');

colorKey({ left: 1543.4, top: 29, bottom: 236, width: 13.6, max: 78.9, step: 20 });
legendBlock('People', peopleNames, peopleColors, 1583, 34.5, 44);
legendBlock('Enterotype', enteroNames, enteroColors, 1583, 281.3, 294.7);
legendBlock('Group', groupNames, groupColors, 1583, 370.5, 380);

// ── Panel B ─────────────────────────────────────────────────────
addText('B', 0, 1190.6, 'font-weight:bold;font-size:26.5px;color:#000;');

annotationTracks({ groups: samplesB, people: peopleB, entero: enteroB, group: groupB, top: 1211.3, bottom: 1260.5, left: 262.5, width: 1064.5, labelPad: 11.5, fill: 0.85 });

sampleHeatmap({
  groups: samplesB, species: speciesB, values: valuesB, max: maxB,
  top: 1262.7, bottom: 2311.3, left: 262.5, width: 1064.5, labelPad: 11
});

// Averages per group, with a grey cell grid and slanted column names on top
(function () {
  const cells = [];
  speciesB.forEach(function (name, r) {
    avgColumns.forEach(function (col, c) {
      cells.push({ x: [c, c + 1], y: name, v: avgTop[r] ? avgTop[r][c] : 0.08 });
    });
  });
  for (let k = 0; k < avgLower.length; k += 3) {
    cells[avgLower[k] * avgColumns.length + avgLower[k + 1]].v = avgLower[k + 2];
  }
  const canvas = addCanvas(1330, 1170, 270, 1150);
  new Chart(canvas, {
    type: 'bar',
    data: {
      labels: speciesB,
      datasets: [{
        data: cells,
        backgroundColor: function (c) { return c.raw ? ramp(c.raw.v / maxB) : '#fff'; },
        borderColor: '#a3a3a3',
        borderWidth: 1,
        borderSkipped: false,
        inflateAmount: 0.5,
        barPercentage: 1,
        categoryPercentage: 1
      }]
    },
    options: {
      indexAxis: 'y',
      layout: { padding: { top: 91.6, bottom: 6, left: 6, right: 80.7 } },
      scales: {
        x: { type: 'linear', display: false, min: 0, max: avgColumns.length },
        y: { type: 'category', display: false }
      }
    },
    plugins: [rotatedLabels(avgColumns, avgColumns.map(function (c, i) { return i + 0.5; }), {
      font: '16px "Liberation Sans", Arial, sans-serif', angle: -Math.PI / 4, dy: 10, dx: -3, top: true
    })]
  });
})();
addText('average subspecies', 1361, 1208, 'font-size:16.5px;');

colorKey({ left: 1540, top: 1269, bottom: 1475.5, width: 13.7, max: maxB, step: 1 });
legendBlock('People', peopleNames, peopleColors, 1579.7, 1274.6, 1284.5);
legendBlock('Enterotype', enteroNames, enteroColors, 1579.7, 1521.4, 1532.5);
legendBlock('Group', groupNames, groupColors, 1579.7, 1610.6, 1620);
</script>
</body>
</html>
